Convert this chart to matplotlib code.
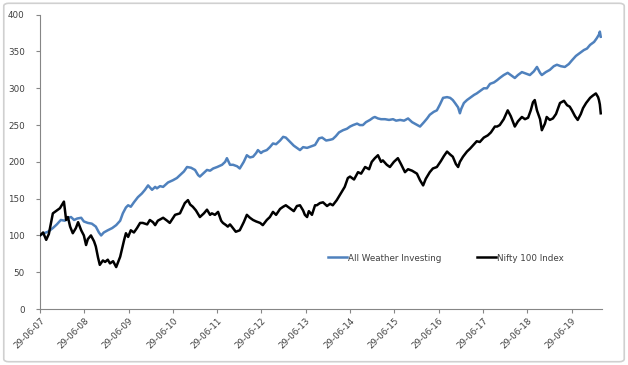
import matplotlib
matplotlib.use("Agg")
import matplotlib.pyplot as plt
from matplotlib.patches import FancyBboxPatch

# ── data (time in decimal years, value indexed to 100) ──
AWI_T = [2007.49, 2007.58, 2007.67, 2007.78, 2007.87, 2007.96, 2008.05, 2008.12, 2008.19, 2008.26,
         2008.33, 2008.42, 2008.48, 2008.57, 2008.66, 2008.75, 2008.82, 2008.87, 2008.93, 2009.02,
         2009.12, 2009.21, 2009.30, 2009.36, 2009.43, 2009.48, 2009.54, 2009.61, 2009.70, 2009.79,
         2009.86, 2009.93, 2010.02, 2010.09, 2010.13, 2010.20, 2010.27, 2010.38, 2010.49, 2010.58,
         2010.65, 2010.74, 2010.81, 2010.90, 2010.99, 2011.06, 2011.10, 2011.19, 2011.26, 2011.33,
         2011.40, 2011.49, 2011.60, 2011.67, 2011.71, 2011.78, 2011.85, 2011.94, 2012.00, 2012.09,
         2012.16, 2012.23, 2012.30, 2012.37, 2012.41, 2012.48, 2012.52, 2012.61, 2012.68, 2012.75,
         2012.82, 2012.91, 2012.98, 2013.04, 2013.09, 2013.16, 2013.22, 2013.29, 2013.36, 2013.43,
         2013.52, 2013.61, 2013.70, 2013.79, 2013.86, 2013.95, 2014.04, 2014.10, 2014.17, 2014.24,
         2014.33, 2014.42, 2014.49, 2014.56, 2014.65, 2014.71, 2014.78, 2014.85, 2014.94, 2015.01,
         2015.05, 2015.12, 2015.19, 2015.28, 2015.37, 2015.46, 2015.53, 2015.62, 2015.71, 2015.80,
         2015.89, 2015.98, 2016.07, 2016.16, 2016.23, 2016.29, 2016.38, 2016.45, 2016.52, 2016.59,
         2016.68, 2016.75, 2016.81, 2016.86, 2016.93, 2016.97, 2017.00, 2017.06, 2017.13, 2017.22,
         2017.29, 2017.35, 2017.44, 2017.51, 2017.58, 2017.65, 2017.74, 2017.81, 2017.87, 2017.96,
         2018.05, 2018.12, 2018.21, 2018.28, 2018.37, 2018.46, 2018.55, 2018.64, 2018.71, 2018.78,
         2018.82, 2018.91, 2019.00, 2019.09, 2019.16, 2019.25, 2019.34, 2019.43, 2019.50, 2019.59,
         2019.68, 2019.77, 2019.84, 2019.91, 2020.00, 2020.06, 2020.11, 2020.13, 2020.15]
AWI_V = [100, 103, 105, 110, 115, 121, 120, 124, 125, 121,
         123, 124, 119, 117, 116, 112, 104, 100, 104, 107,
         110, 114, 120, 130, 138, 141, 139, 145, 152, 157,
         162, 168, 162, 166, 164, 167, 166, 172, 175, 178,
         182, 187, 193, 192, 189, 182, 180, 185, 189, 188,
         191, 193, 196, 200, 205, 196, 196, 194, 191, 200,
         209, 206, 207, 212, 216, 212, 214, 216, 220, 225,
         224, 229, 234, 233, 230, 226, 222, 219, 216, 220,
         219, 221, 223, 232, 233, 229, 230, 231, 235, 240,
         243, 245, 248, 250, 252, 250, 250, 254, 257, 260,
         261, 259, 258, 258, 257, 258, 256, 257, 256, 259,
         254, 251, 248, 254, 259, 264, 268, 270, 278, 287,
         288, 287, 284, 280, 274, 266, 272, 280, 284, 288,
         291, 293, 297, 300, 300, 306, 308, 311, 314, 318,
         321, 318, 314, 318, 322, 320, 318, 323, 329, 321,
         318, 322, 325, 330, 332, 330, 329, 333, 338, 344,
         348, 352, 354, 359, 363, 368, 373, 377, 370]

NIFTY_T = [2007.49, 2007.56, 2007.63, 2007.69, 2007.78, 2007.87, 2007.94, 2008.03, 2008.08, 2008.12,
           2008.17, 2008.23, 2008.30, 2008.35, 2008.42, 2008.48, 2008.53, 2008.57, 2008.64, 2008.71,
           2008.75, 2008.80, 2008.84, 2008.91, 2008.96, 2009.02, 2009.07, 2009.14, 2009.21, 2009.30,
           2009.39, 2009.43, 2009.48, 2009.54, 2009.61, 2009.68, 2009.75, 2009.81, 2009.91, 2009.97,
           2010.04, 2010.09, 2010.15, 2010.27, 2010.36, 2010.42, 2010.54, 2010.65, 2010.76, 2010.83,
           2010.88, 2010.94, 2011.01, 2011.10, 2011.19, 2011.26, 2011.33, 2011.37, 2011.44, 2011.51,
           2011.58, 2011.62, 2011.69, 2011.73, 2011.78, 2011.82, 2011.91, 2012.00, 2012.09, 2012.16,
           2012.23, 2012.30, 2012.37, 2012.46, 2012.52, 2012.61, 2012.68, 2012.75, 2012.82, 2012.91,
           2012.98, 2013.04, 2013.13, 2013.22, 2013.29, 2013.36, 2013.43, 2013.47, 2013.52, 2013.56,
           2013.63, 2013.70, 2013.74, 2013.81, 2013.88, 2013.97, 2014.04, 2014.10, 2014.19, 2014.26,
           2014.37, 2014.44, 2014.49, 2014.58, 2014.67, 2014.74, 2014.83, 2014.92, 2014.98, 2015.05,
           2015.12, 2015.19, 2015.23, 2015.32, 2015.39, 2015.48, 2015.57, 2015.64, 2015.73, 2015.80,
           2015.89, 2016.00, 2016.07, 2016.14, 2016.20, 2016.29, 2016.36, 2016.45, 2016.54, 2016.61,
           2016.68, 2016.75, 2016.81, 2016.88, 2016.93, 2016.97, 2017.04, 2017.13, 2017.20, 2017.29,
           2017.35, 2017.42, 2017.51, 2017.60, 2017.67, 2017.76, 2017.81, 2017.87, 2017.96, 2018.05,
           2018.12, 2018.21, 2018.28, 2018.37, 2018.44, 2018.51, 2018.57, 2018.62, 2018.66, 2018.71,
           2018.78, 2018.82, 2018.89, 2018.93, 2019.00, 2019.07, 2019.14, 2019.23, 2019.32, 2019.39,
           2019.45, 2019.50, 2019.57, 2019.63, 2019.70, 2019.75, 2019.82, 2019.91, 2019.97, 2020.04,
           2020.09, 2020.11, 2020.13, 2020.15]
NIFTY_V = [100, 104, 94, 102, 130, 134, 137, 146, 121, 125,
           112, 103, 110, 118, 107, 100, 87, 95, 100, 92,
           85, 70, 60, 66, 64, 67, 62, 65, 57, 71,
           94, 103, 98, 107, 104, 110, 117, 117, 115, 121,
           118, 114, 120, 124, 120, 117, 128, 130, 144, 148,
           142, 139, 134, 125, 130, 135, 128, 130, 128, 132,
           120, 117, 114, 112, 115, 112, 105, 107, 118, 128,
           124, 121, 119, 117, 114, 121, 125, 132, 128, 136,
           139, 141, 137, 133, 140, 141, 134, 128, 125, 133,
           128, 141, 141, 144, 145, 140, 143, 141, 148, 155,
           166, 178, 180, 176, 186, 184, 193, 190, 200, 205,
           209, 200, 202, 196, 193, 200, 205, 197, 186, 190,
           188, 184, 175, 168, 177, 186, 191, 193, 201, 208,
           214, 210, 207, 197, 193, 200, 207, 214, 218, 224,
           228, 227, 233, 236, 240, 248, 248, 250, 258, 270,
           262, 248, 255, 261, 258, 260, 270, 281, 284, 270,
           258, 243, 252, 261, 257, 259, 265, 280, 283, 277,
           275, 270, 262, 257, 265, 273, 280, 287, 290, 293,
           288, 284, 278, 266]

SERIES = ["All Weather Investing", "Nifty 100 Index"]
COLORS = ["#4F81BD", "#000000"]

YEARS = list(range(2007, 2020))
TICK_LABELS = [f"29-06-{y % 100:02d}" for y in YEARS]

AXIS_GREY = "#868686"
TEXT_GREY = "#404040"

fig = plt.figure(figsize=(6.28, 3.65), dpi=100)
fig.patch.set_facecolor("white")

# outer chart border (Excel style)
fig.patches.append(FancyBboxPatch(
    (0.006, 0.009), 0.988, 0.982, boxstyle="round,pad=0,rounding_size=0.008",
    transform=fig.transFigure, facecolor="none", edgecolor="#d0d0d0", linewidth=1.2))

ax = fig.add_axes([0.0637, 0.1534, 0.895, 0.8063])

ax.plot(AWI_T, AWI_V, color=COLORS[0], lw=1.8, label=SERIES[0], solid_joinstyle="round", zorder=2)
ax.plot(NIFTY_T, NIFTY_V, color=COLORS[1], lw=1.8, label=SERIES[1], solid_joinstyle="round", zorder=3)

ax.set_ylim(0, 400)
ax.set_yticks(range(0, 401, 50))
ax.set_xlim(2007.49, 2020.18)
ax.set_xticks([y + 179 / 365 for y in YEARS])
ax.set_xticklabels(TICK_LABELS, rotation=45, ha="right", rotation_mode="anchor")

for side in ["top", "right"]:
    ax.spines[side].set_visible(False)
for side in ["left", "bottom"]:
    ax.spines[side].set_color(AXIS_GREY)
    ax.spines[side].set_linewidth(0.8)

ax.tick_params(axis="both", colors=AXIS_GREY, labelcolor=TEXT_GREY, labelsize=6.3,
               length=3, width=0.8, direction="out")
ax.tick_params(axis="y", pad=8)
ax.tick_params(axis="x", pad=2)

fig.legend(loc="center", bbox_to_anchor=(0.71, 0.293), ncol=2, frameon=False,
           fontsize=6.3, handlelength=2.2, handletextpad=0.15, columnspacing=4.0,
           labelcolor=TEXT_GREY)

fig.savefig("out.png", dpi=100, facecolor="white")
